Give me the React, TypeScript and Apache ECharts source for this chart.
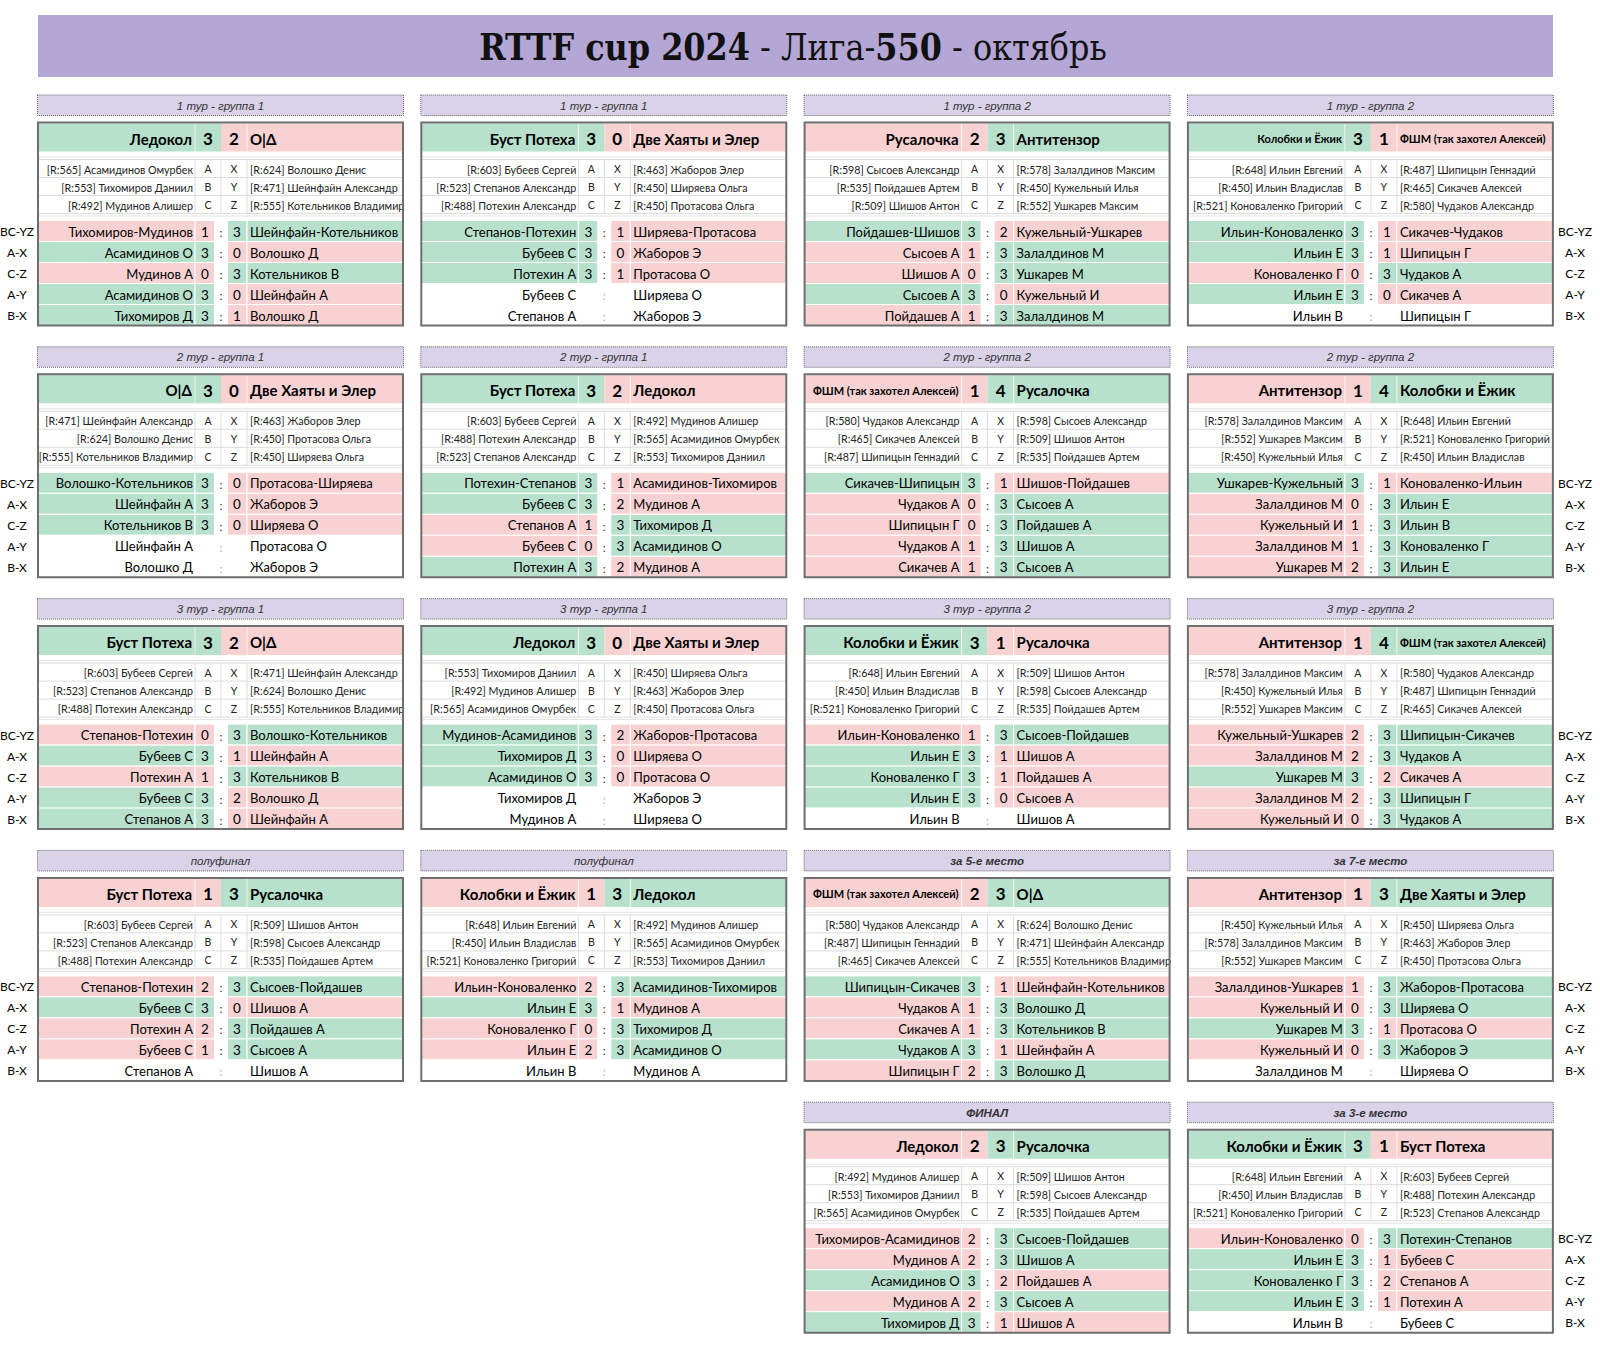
import React, { useEffect, useRef } from "react";
import * as echarts from "echarts";

const blockLabels = ["1 тур - группа 1","1 тур - группа 1","1 тур - группа 2","1 тур - группа 2","2 тур - группа 1","2 тур - группа 1","2 тур - группа 2","2 тур - группа 2","3 тур - группа 1","3 тур - группа 1","3 тур - группа 2","3 тур - группа 2","полуфинал","полуфинал","за 5-е место","за 7-е место","ФИНАЛ","за 3-е место"];
const labelBold = [false,false,false,false,false,false,false,false,false,false,false,false,false,false,true,true,true,true];
const leftTeams = ["Ледокол","Буст Потеха","Русалочка","Колобки и Ёжик","О|Δ","Буст Потеха","ФШМ (так захотел Алексей)","Антитензор","Буст Потеха","Ледокол","Колобки и Ёжик","Антитензор","Буст Потеха","Колобки и Ёжик","ФШМ (так захотел Алексей)","Антитензор","Ледокол","Колобки и Ёжик"];
const rightTeams = ["О|Δ","Две Хаяты и Элер","Антитензор","ФШМ (так захотел Алексей)","Две Хаяты и Элер","Ледокол","Русалочка","Колобки и Ёжик","О|Δ","Две Хаяты и Элер","Русалочка","ФШМ (так захотел Алексей)","Русалочка","Ледокол","О|Δ","Две Хаяты и Элер","Русалочка","Буст Потеха"];
const leftTeamScores = [3,3,2,3,3,3,1,1,3,3,3,1,1,1,2,1,2,3];
const rightTeamScores = [2,0,3,1,0,2,4,4,2,0,1,4,3,3,3,3,3,1];
const leftTeamSmall = [false,false,false,true,false,false,true,false,false,false,false,false,false,false,true,false,false,false];
const rightTeamSmall = [false,false,false,true,false,false,false,false,false,false,false,true,false,false,false,false,false,false];

const leftPlayers = [
  ["[R:565] Асамидинов Омурбек","[R:553] Тихомиров Даниил","[R:492] Мудинов Алишер"],
  ["[R:603] Бубеев Сергей","[R:523] Степанов Александр","[R:488] Потехин Александр"],
  ["[R:598] Сысоев Александр","[R:535] Пойдашев Артем","[R:509] Шишов Антон"],
  ["[R:648] Ильин Евгений","[R:450] Ильин Владислав","[R:521] Коноваленко Григорий"],
  ["[R:471] Шейнфайн Александр","[R:624] Волошко Денис","[R:555] Котельников Владимир"],
  ["[R:603] Бубеев Сергей","[R:488] Потехин Александр","[R:523] Степанов Александр"],
  ["[R:580] Чудаков Александр","[R:465] Сикачев Алексей","[R:487] Шипицын Геннадий"],
  ["[R:578] Залалдинов Максим","[R:552] Ушкарев Максим","[R:450] Кужельный Илья"],
  ["[R:603] Бубеев Сергей","[R:523] Степанов Александр","[R:488] Потехин Александр"],
  ["[R:553] Тихомиров Даниил","[R:492] Мудинов Алишер","[R:565] Асамидинов Омурбек"],
  ["[R:648] Ильин Евгений","[R:450] Ильин Владислав","[R:521] Коноваленко Григорий"],
  ["[R:578] Залалдинов Максим","[R:450] Кужельный Илья","[R:552] Ушкарев Максим"],
  ["[R:603] Бубеев Сергей","[R:523] Степанов Александр","[R:488] Потехин Александр"],
  ["[R:648] Ильин Евгений","[R:450] Ильин Владислав","[R:521] Коноваленко Григорий"],
  ["[R:580] Чудаков Александр","[R:487] Шипицын Геннадий","[R:465] Сикачев Алексей"],
  ["[R:450] Кужельный Илья","[R:578] Залалдинов Максим","[R:552] Ушкарев Максим"],
  ["[R:492] Мудинов Алишер","[R:553] Тихомиров Даниил","[R:565] Асамидинов Омурбек"],
  ["[R:648] Ильин Евгений","[R:450] Ильин Владислав","[R:521] Коноваленко Григорий"],
];
const rightPlayers = [
  ["[R:624] Волошко Денис","[R:471] Шейнфайн Александр","[R:555] Котельников Владимир"],
  ["[R:463] Жаборов Элер","[R:450] Ширяева Ольга","[R:450] Протасова Ольга"],
  ["[R:578] Залалдинов Максим","[R:450] Кужельный Илья","[R:552] Ушкарев Максим"],
  ["[R:487] Шипицын Геннадий","[R:465] Сикачев Алексей","[R:580] Чудаков Александр"],
  ["[R:463] Жаборов Элер","[R:450] Протасова Ольга","[R:450] Ширяева Ольга"],
  ["[R:492] Мудинов Алишер","[R:565] Асамидинов Омурбек","[R:553] Тихомиров Даниил"],
  ["[R:598] Сысоев Александр","[R:509] Шишов Антон","[R:535] Пойдашев Артем"],
  ["[R:648] Ильин Евгений","[R:521] Коноваленко Григорий","[R:450] Ильин Владислав"],
  ["[R:471] Шейнфайн Александр","[R:624] Волошко Денис","[R:555] Котельников Владимир"],
  ["[R:450] Ширяева Ольга","[R:463] Жаборов Элер","[R:450] Протасова Ольга"],
  ["[R:509] Шишов Антон","[R:598] Сысоев Александр","[R:535] Пойдашев Артем"],
  ["[R:580] Чудаков Александр","[R:487] Шипицын Геннадий","[R:465] Сикачев Алексей"],
  ["[R:509] Шишов Антон","[R:598] Сысоев Александр","[R:535] Пойдашев Артем"],
  ["[R:492] Мудинов Алишер","[R:565] Асамидинов Омурбек","[R:553] Тихомиров Даниил"],
  ["[R:624] Волошко Денис","[R:471] Шейнфайн Александр","[R:555] Котельников Владимир"],
  ["[R:450] Ширяева Ольга","[R:463] Жаборов Элер","[R:450] Протасова Ольга"],
  ["[R:509] Шишов Антон","[R:598] Сысоев Александр","[R:535] Пойдашев Артем"],
  ["[R:603] Бубеев Сергей","[R:488] Потехин Александр","[R:523] Степанов Александр"],
];
const leftLetters = ["A","B","C"];
const rightLetters = ["X","Y","Z"];
const pairLabels = ["BC-YZ","A-X","C-Z","A-Y","B-X"];

const matchLeft = [
  ["Тихомиров-Мудинов","Асамидинов О","Мудинов А","Асамидинов О","Тихомиров Д"],
  ["Степанов-Потехин","Бубеев С","Потехин А","Бубеев С","Степанов А"],
  ["Пойдашев-Шишов","Сысоев А","Шишов А","Сысоев А","Пойдашев А"],
  ["Ильин-Коноваленко","Ильин Е","Коноваленко Г","Ильин Е","Ильин В"],
  ["Волошко-Котельников","Шейнфайн А","Котельников В","Шейнфайн А","Волошко Д"],
  ["Потехин-Степанов","Бубеев С","Степанов А","Бубеев С","Потехин А"],
  ["Сикачев-Шипицын","Чудаков А","Шипицын Г","Чудаков А","Сикачев А"],
  ["Ушкарев-Кужельный","Залалдинов М","Кужельный И","Залалдинов М","Ушкарев М"],
  ["Степанов-Потехин","Бубеев С","Потехин А","Бубеев С","Степанов А"],
  ["Мудинов-Асамидинов","Тихомиров Д","Асамидинов О","Тихомиров Д","Мудинов А"],
  ["Ильин-Коноваленко","Ильин Е","Коноваленко Г","Ильин Е","Ильин В"],
  ["Кужельный-Ушкарев","Залалдинов М","Ушкарев М","Залалдинов М","Кужельный И"],
  ["Степанов-Потехин","Бубеев С","Потехин А","Бубеев С","Степанов А"],
  ["Ильин-Коноваленко","Ильин Е","Коноваленко Г","Ильин Е","Ильин В"],
  ["Шипицын-Сикачев","Чудаков А","Сикачев А","Чудаков А","Шипицын Г"],
  ["Залалдинов-Ушкарев","Кужельный И","Ушкарев М","Кужельный И","Залалдинов М"],
  ["Тихомиров-Асамидинов","Мудинов А","Асамидинов О","Мудинов А","Тихомиров Д"],
  ["Ильин-Коноваленко","Ильин Е","Коноваленко Г","Ильин Е","Ильин В"],
];
const matchRight = [
  ["Шейнфайн-Котельников","Волошко Д","Котельников В","Шейнфайн А","Волошко Д"],
  ["Ширяева-Протасова","Жаборов Э","Протасова О","Ширяева О","Жаборов Э"],
  ["Кужельный-Ушкарев","Залалдинов М","Ушкарев М","Кужельный И","Залалдинов М"],
  ["Сикачев-Чудаков","Шипицын Г","Чудаков А","Сикачев А","Шипицын Г"],
  ["Протасова-Ширяева","Жаборов Э","Ширяева О","Протасова О","Жаборов Э"],
  ["Асамидинов-Тихомиров","Мудинов А","Тихомиров Д","Асамидинов О","Мудинов А"],
  ["Шишов-Пойдашев","Сысоев А","Пойдашев А","Шишов А","Сысоев А"],
  ["Коноваленко-Ильин","Ильин Е","Ильин В","Коноваленко Г","Ильин Е"],
  ["Волошко-Котельников","Шейнфайн А","Котельников В","Волошко Д","Шейнфайн А"],
  ["Жаборов-Протасова","Ширяева О","Протасова О","Жаборов Э","Ширяева О"],
  ["Сысоев-Пойдашев","Шишов А","Пойдашев А","Сысоев А","Шишов А"],
  ["Шипицын-Сикачев","Чудаков А","Сикачев А","Шипицын Г","Чудаков А"],
  ["Сысоев-Пойдашев","Шишов А","Пойдашев А","Сысоев А","Шишов А"],
  ["Асамидинов-Тихомиров","Мудинов А","Тихомиров Д","Асамидинов О","Мудинов А"],
  ["Шейнфайн-Котельников","Волошко Д","Котельников В","Шейнфайн А","Волошко Д"],
  ["Жаборов-Протасова","Ширяева О","Протасова О","Жаборов Э","Ширяева О"],
  ["Сысоев-Пойдашев","Шишов А","Пойдашев А","Сысоев А","Шишов А"],
  ["Потехин-Степанов","Бубеев С","Степанов А","Потехин А","Бубеев С"],
];
const matchScoreLeft: (number | null)[][] = [
  [1,3,0,3,3],[3,3,3,null,null],[3,1,0,3,1],[3,3,0,3,null],
  [3,3,3,null,null],[3,3,1,0,3],[3,0,0,1,1],[3,0,1,1,2],
  [0,3,1,3,3],[3,3,3,null,null],[1,3,3,3,null],[2,2,3,2,0],
  [2,3,2,1,null],[2,3,0,2,null],[3,1,1,3,2],[1,0,3,0,null],
  [2,2,3,2,3],[0,3,3,3,null],
];
const matchScoreRight: (number | null)[][] = [
  [3,0,3,0,1],[1,0,1,null,null],[2,3,3,0,3],[1,1,3,0,null],
  [0,0,0,null,null],[1,2,3,3,2],[1,3,3,3,3],[1,3,3,3,3],
  [3,1,3,2,0],[2,0,0,null,null],[3,1,1,0,null],[3,3,2,3,3],
  [3,0,3,3,null],[3,1,3,3,null],[1,3,3,1,3],[3,3,1,3,null],
  [3,3,2,3,1],[3,1,2,1,null],
];

const GREEN = "#b7e1cd";
const PINK = "#f8d2d2";
const FONT = "Lato, 'Noto Sans', sans-serif";

function buildGraphics() {
  const els: any[] = [];
  const rect = (x: number, y: number, w: number, h: number, fill: string, stroke?: string, lw = 1, dash?: number[]) => {
    els.push({ type: "rect", silent: true, shape: { x, y, width: w, height: h },
      style: { fill, stroke: stroke || null, lineWidth: stroke ? lw : 0, lineDash: dash } });
  };
  const line = (x1: number, y1: number, x2: number, y2: number, color: string, lw = 1) => {
    els.push({ type: "line", silent: true, shape: { x1, y1, x2, y2 }, style: { stroke: color, lineWidth: lw } });
  };
  const text = (x: number, y: number, str: string, size: number, align: string, opts: any = {}) => {
    els.push({ type: "text", silent: true, x, y, style: {
      text: str, fontSize: size, fontFamily: opts.family || FONT, fontWeight: opts.weight || "normal",
      fontStyle: opts.style || "normal", fill: opts.color || "#000",
      align, textAlign: align, verticalAlign: "middle", textVerticalAlign: "middle" } });
  };

  // Title banner
  rect(38, 15, 1515, 62, "#b4a7d6");
  els.push({ type: "text", silent: true, x: 793, y: 47, scaleX: 0.862, style: {
    text: "{b|RTTF cup 2024}{n| - Лига-}{b|550}{n| - октябрь}",
    align: "center", textAlign: "center", verticalAlign: "middle", textVerticalAlign: "middle",
    rich: {
      b: { fontFamily: "'DejaVu Serif', serif", fontWeight: "bold", fontSize: 37, fill: "#111", color: "#111" },
      n: { fontFamily: "'DejaVu Serif', serif", fontWeight: "normal", fontSize: 37, fill: "#111", color: "#111" },
    } } });

  const W = 367;
  for (let i = 0; i < blockLabels.length; i++) {
    const r = Math.floor(i / 4);
    const c = i < 16 ? i % 4 : i - 14;
    const x0 = 37 + 383.3 * c;
    const L = 94.5 + 251.8 * r;

    // label bar
    rect(x0 + 0.5, L + 0.5, W - 1, 20.5, "#d9d2e9", "#666", 1, [1, 1]);
    text(x0 + W / 2, L + 11, blockLabels[i], 11.5, "center",
      { family: "'Liberation Sans', Arial, sans-serif", style: "italic", weight: labelBold[i] ? "bold" : "normal", color: "#333" });

    // header
    const lWin = leftTeamScores[i] > rightTeamScores[i];
    const hl = lWin ? GREEN : PINK;
    const hr = lWin ? PINK : GREEN;
    const hy = L + 29, hh = 28;
    rect(x0 + 1, hy, 157, hh, hl);
    rect(x0 + 158, hy, 26, hh, hl);
    rect(x0 + 184, hy, 26, hh, hr);
    rect(x0 + 210, hy, W - 211, hh, hr);
    line(x0 + 158, hy, x0 + 158, hy + hh, "rgba(255,255,255,0.7)");
    line(x0 + 210, hy, x0 + 210, hy + hh, "rgba(255,255,255,0.7)");
    text(x0 + 155, hy + hh / 2 + 1, leftTeams[i], leftTeamSmall[i] ? 11 : 15, "right", { weight: "bold" });
    text(x0 + 171, hy + hh / 2 + 1, String(leftTeamScores[i]), 17, "center", { weight: "bold" });
    text(x0 + 197, hy + hh / 2 + 1, String(rightTeamScores[i]), 17, "center", { weight: "bold" });
    text(x0 + 213, hy + hh / 2 + 1, rightTeams[i], rightTeamSmall[i] ? 11 : 15, "left", { weight: "bold" });

    // gap line
    line(x0 + 2, L + 62.5, x0 + W - 2, L + 62.5, "#e3e3e3");
    // players
    const py = L + 65, ph = 18;
    for (let k = 0; k <= 3; k++) line(x0 + 2, py + ph * k, x0 + W - 2, py + ph * k, "#dcdcdc");
    line(x0 + 2, L + 121.5, x0 + W - 2, L + 121.5, "#e3e3e3");
    [158, 184, 210].forEach((dx) => line(x0 + dx, py, x0 + dx, py + ph * 3, "#dcdcdc"));
    for (let k = 0; k < 3; k++) {
      const yy = py + ph * k + ph / 2 + 0.5;
      text(x0 + 156, yy, leftPlayers[i][k], 10.7, "right", { color: "#222" });
      text(x0 + 171, yy, leftLetters[k], 10.5, "center", { color: "#222" });
      text(x0 + 197, yy, rightLetters[k], 10.5, "center", { color: "#222" });
      text(x0 + 213, yy, rightPlayers[i][k], 10.7, "left", { color: "#222" });
    }

    // matches
    const my = L + 126, mh = 21;
    for (let k = 0; k < 5; k++) {
      const sl = matchScoreLeft[i][k];
      const sr = matchScoreRight[i][k];
      const played = sl !== null && sr !== null;
      const cl = played ? ((sl as number) > (sr as number) ? GREEN : PINK) : "#ffffff";
      const cr = played ? ((sl as number) > (sr as number) ? PINK : GREEN) : "#ffffff";
      const yy = my + mh * k;
      rect(x0 + 1, yy, 157, mh, cl, "#ffffff", 1);
      rect(x0 + 158, yy, 19.5, mh, cl, "#ffffff", 1);
      rect(x0 + 177.5, yy, 13, mh, "#ffffff");
      rect(x0 + 190.5, yy, 19.5, mh, cr, "#ffffff", 1);
      rect(x0 + 210, yy, W - 211, mh, cr, "#ffffff", 1);
      const ty = yy + mh / 2 + 0.5;
      text(x0 + 156, ty, matchLeft[i][k], 13, "right");
      if (played) {
        text(x0 + 168, ty, String(sl), 13.5, "center");
        text(x0 + 200, ty, String(sr), 13.5, "center");
      }
      text(x0 + 184, ty + 1, ":", 12, "center", { color: played ? "#333" : "#aaa" });
      text(x0 + 213, ty, matchRight[i][k], 13, "left");
      if (c === 0) text(17, ty, pairLabels[k], 12, "center");
      if (c === 3) text(1575, ty, pairLabels[k], 12, "center");
    }

    // box border
    rect(x0 + 1, L + 28, W - 2, 203, "none", "#6e6e6e", 2);
  }
  return els;
}

export default function App() {
  const ref = useRef<HTMLDivElement>(null);
  useEffect(() => {
    if (!ref.current) return;
    const chart = echarts.init(ref.current, undefined, { renderer: "svg" });
    chart.setOption({
      animation: false,
      backgroundColor: "#ffffff",
      graphic: { elements: buildGraphics() },
    });
    return () => chart.dispose();
  }, []);
  return (
    <div
      ref={ref}
      style={{ position: "absolute", left: 0, top: 0, width: 1600, height: 1352, background: "#fff" }}
    />
  );
}
